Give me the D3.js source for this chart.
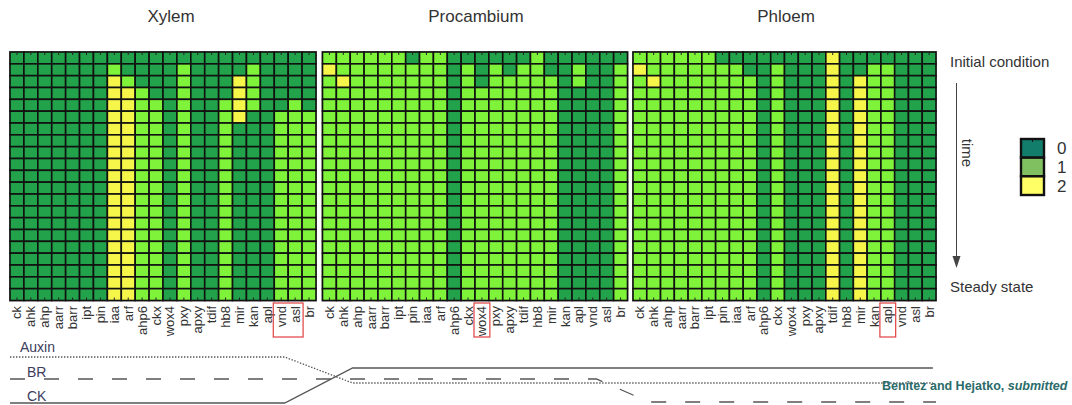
<!DOCTYPE html>
<html>
<head>
<meta charset="utf-8">
<script src="https://d3js.org/d3.v7.min.js"></script>
<style>
  body { margin: 0; background: #fff; }
  text { font-family: Arial, "Liberation Sans", sans-serif; }
</style>
</head>
<body>
<div class="chart"></div>
<script>
var svgWidth = 1072;
var svgHeight = 405;

// genes (columns), same order in every tissue
var genes = ["ck", "ahk", "ahp", "aarr", "barr", "ipt", "pin", "iaa", "arf", "ahp6", "ckx",
  "wox4", "pxy", "apxy", "tdif", "hb8", "mir", "kan", "apl", "vnd", "asl", "br"];

var tissues = ["Xylem", "Procambium", "Phloem"];

// one string per time step, one digit per gene (0, 1, 2)
var xylemStates = [
  "0000000000000000000000",
  "0000000100001000010000",
  "0000000210001000210000",
  "0000000221001000210000",
  "0000000221101001210010",
  "0000000221101001200111",
  "0000000221101001000111",
  "0000000221101001000111",
  "0000000221101001000111",
  "0000000221101001000111",
  "0000000221101001000111",
  "0000000221101001000111",
  "0000000221101001000111",
  "0000000221101001000111",
  "0000000221101001000111",
  "0000000221101001000111",
  "0000000221101001000111",
  "0000000221101001000111",
  "0000000221101001000111",
  "0000000221101001000111",
  "0000000221101001000111"
];

var procambiumStates = [
  "1111110110000001000000",
  "2111111110101011001001",
  "1211111110101111101001",
  "1111111110111111100001",
  "1111111110111111100001",
  "1111111110111111100001",
  "1111111110111111100001",
  "1111111110111111100001",
  "1111111110111111100001",
  "1111111110111111100001",
  "1111111110111111100001",
  "1111111110111111100001",
  "1111111110111111100001",
  "1111111110111111100001",
  "1111111110111111100001",
  "1111111110111111100001",
  "1111111110111111100001",
  "1111111110111111100001",
  "1111111110111111100001",
  "1111111110111111100001",
  "1111111110111111100001"
];

var phloemStates = [
  "1111110000000020000000",
  "2111111100100020011000",
  "1211111110100020211000",
  "1111111110100020211000",
  "1111111110100020211000",
  "1111111110100020211000",
  "1111111110100020211000",
  "1111111110100020211000",
  "1111111110100020211000",
  "1111111110100020211000",
  "1111111110100020211000",
  "1111111110100020211000",
  "1111111110100020211000",
  "1111111110100020211000",
  "1111111110100020211000",
  "1111111110100020211000",
  "1111111110100020211000",
  "1111111110100020211000",
  "1111111110100020211000",
  "1111111110100020211000",
  "1111111110100020211000"
];

// boxed genes per tissue
var highlighted = [["vnd", "asl"], ["wox4"], ["apl"]];

var legendValues = [0, 1, 2];

// hormone profiles along the tissue axis (0 = left of xylem, 3 = right of phloem)
var signalNames = ["Auxin", "BR", "CK"];
var auxinProfile = [[0, 9.6], [0.89, 9.6], [1.11, 4.4], [2.99, 4.4]];
var brProfile = [[0, 5.2], [1.9, 5.2], [2.07, 0.6], [3.0, 0.6]];
var ckProfile = [[0, 0.4], [0.89, 0.4], [1.11, 7.4], [2.99, 7.4]];

var allStates = [xylemStates, procambiumStates, phloemStates];

var cellColor = d3.scaleOrdinal().domain([0, 1, 2]).range(["#22a24a", "#7ff23a", "#f6f54a"]);
var legendColor = d3.scaleOrdinal().domain([0, 1, 2]).range(["#127d6a", "#80c060", "#ffff66"]);

var svg = d3.select(".chart")
  .append("svg")
  .attr("width", svgWidth)
  .attr("height", svgHeight);

svg.append("rect")
  .attr("width", svgWidth)
  .attr("height", svgHeight)
  .attr("fill", "#fff");

// panel extents
var panelX = [[10, 316], [322.5, 627.5], [633, 936]];
var titleX = [171, 476, 786];
var gridTop = 52;
var gridBottom = 300.5;

var rowScale = d3.scaleBand()
  .domain(d3.range(xylemStates.length))
  .range([gridTop, gridBottom]);

tissues.forEach(function(tissue, p) {
  var colScale = d3.scaleBand()
    .domain(genes)
    .range(panelX[p]);

  var cells = [];
  allStates[p].forEach(function(row, r) {
    genes.forEach(function(g, i) {
      cells.push({ row: r, gene: g, value: +row[i] });
    });
  });

  var panel = svg.append("g").attr("class", "panel");

  panel.append("rect")
    .attr("x", panelX[p][0] - 0.5)
    .attr("y", gridTop - 0.5)
    .attr("width", panelX[p][1] - panelX[p][0] + 1)
    .attr("height", gridBottom - gridTop + 1)
    .attr("fill", "none")
    .attr("stroke", "#999")
    .attr("stroke-width", 1);

  panel.selectAll("rect.cell")
    .data(cells)
    .enter()
    .append("rect")
    .attr("class", "cell")
    .attr("x", d => colScale(d.gene))
    .attr("y", d => rowScale(d.row))
    .attr("width", colScale.bandwidth())
    .attr("height", rowScale.bandwidth())
    .attr("fill", d => cellColor(d.value))
    .attr("stroke", "#111")
    .attr("stroke-width", 1.6);

  // little inner ticks at top and bottom
  panel.selectAll("line.ttick")
    .data(genes)
    .enter()
    .append("line")
    .attr("class", "ttick")
    .attr("x1", d => colScale(d) + colScale.bandwidth() / 2)
    .attr("x2", d => colScale(d) + colScale.bandwidth() / 2)
    .attr("y1", gridTop)
    .attr("y2", gridTop + 3)
    .attr("stroke", "#222")
    .attr("stroke-width", 1);

  panel.selectAll("line.btick")
    .data(genes)
    .enter()
    .append("line")
    .attr("class", "btick")
    .attr("x1", d => colScale(d) + colScale.bandwidth() / 2)
    .attr("x2", d => colScale(d) + colScale.bandwidth() / 2)
    .attr("y1", gridBottom - 3)
    .attr("y2", gridBottom)
    .attr("stroke", "#222")
    .attr("stroke-width", 1);

  // gene labels
  panel.selectAll("text.gene")
    .data(genes)
    .enter()
    .append("text")
    .attr("class", "gene")
    .attr("transform", d => `translate(${colScale(d) + colScale.bandwidth() / 2 + 4.5}, 306) rotate(-90)`)
    .attr("text-anchor", "end")
    .attr("font-size", "13px")
    .attr("fill", "#333")
    .text(d => d);

  // red box round the marked genes
  var hl = highlighted[p];
  panel.append("rect")
    .attr("x", colScale(hl[0]) - 1)
    .attr("y", 303)
    .attr("width", colScale.bandwidth() * hl.length + 2)
    .attr("height", 34)
    .attr("fill", "none")
    .attr("stroke", "#e04040")
    .attr("stroke-width", 1.2);

  panel.append("text")
    .attr("x", titleX[p])
    .attr("y", 22)
    .attr("text-anchor", "middle")
    .attr("font-size", "17px")
    .attr("fill", "#333")
    .text(tissue);
});

// right side annotations
svg.append("text")
  .attr("x", 950)
  .attr("y", 67)
  .attr("font-size", "15px")
  .attr("fill", "#333")
  .text("Initial condition");

svg.append("text")
  .attr("x", 950)
  .attr("y", 292)
  .attr("font-size", "15px")
  .attr("fill", "#333")
  .text("Steady state");

svg.append("line")
  .attr("x1", 956.5)
  .attr("x2", 956.5)
  .attr("y1", 83)
  .attr("y2", 258)
  .attr("stroke", "#444")
  .attr("stroke-width", 1);

svg.append("path")
  .attr("d", "M952.5,256 L960.5,256 L956.5,268 Z")
  .attr("fill", "#444");

svg.append("text")
  .attr("transform", "translate(962, 153) rotate(90)")
  .attr("text-anchor", "middle")
  .attr("font-size", "15px")
  .attr("fill", "#333")
  .text("time");

// legend
var legendScale = d3.scaleBand()
  .domain(legendValues)
  .range([139, 195]);

var legend = svg.append("g");

legend.selectAll("rect")
  .data(legendValues)
  .enter()
  .append("rect")
  .attr("x", 1021)
  .attr("y", d => legendScale(d))
  .attr("width", 23)
  .attr("height", legendScale.bandwidth())
  .attr("fill", d => legendColor(d))
  .attr("stroke", "#111")
  .attr("stroke-width", 2.4);

legend.append("line")
  .attr("x1", 1032.5)
  .attr("x2", 1032.5)
  .attr("y1", 139)
  .attr("y2", 142)
  .attr("stroke", "#111");

legend.selectAll("text")
  .data(legendValues)
  .enter()
  .append("text")
  .attr("x", 1057)
  .attr("y", d => legendScale(d) + legendScale.bandwidth() / 2)
  .attr("dy", "0.36em")
  .attr("font-size", "17px")
  .attr("fill", "#333")
  .text(d => d);

// hormone profiles under the heatmaps
var posScale = d3.scaleLinear().domain([0, 3]).range([10, 936]);
var levelScale = d3.scaleLinear().domain([0, 10]).range([405, 355]);

var profileLine = d3.line()
  .x(d => posScale(d[0]))
  .y(d => levelScale(d[1]));

var profiles = [auxinProfile, brProfile, ckProfile];
var dashes = ["1.4,1.6", "15,19", null];
var labelY = [352, 377, 401];
var labelX = [20, 27, 27];

profiles.forEach(function(prof, i) {
  svg.append("path")
    .attr("d", profileLine(prof))
    .attr("fill", "none")
    .attr("stroke", "#555")
    .attr("stroke-width", 1.3)
    .attr("stroke-dasharray", dashes[i]);

  svg.append("text")
    .attr("x", labelX[i])
    .attr("y", labelY[i])
    .attr("font-size", "14px")
    .attr("fill", "#3d3d5c")
    .text(signalNames[i]);
});

// citation
var cite = svg.append("text")
  .attr("x", 882)
  .attr("y", 390)
  .attr("font-size", "12.5px")
  .attr("font-weight", "bold")
  .attr("fill", "#2b6b6b");

cite.append("tspan").text("Benítez and Hejatko, ");
cite.append("tspan").attr("font-style", "italic").text("submitted");
</script>
</body>
</html>
